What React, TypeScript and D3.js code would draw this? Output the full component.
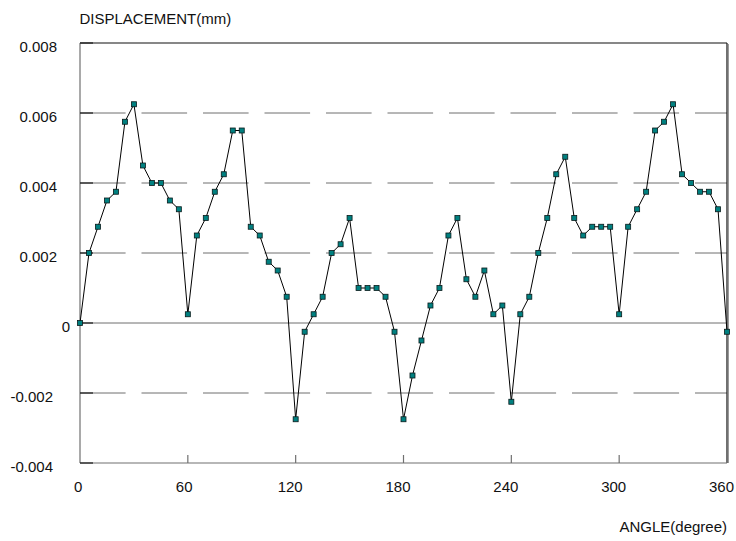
import React from "react";
import * as d3 from "d3";

// Displacement readings every 5 degrees of rotation (mm)
const angles: number[] = d3.range(0, 361, 5);
const displacement: number[] = [
  0, 0.002, 0.00275, 0.0035, 0.00375, 0.00575, 0.00625, 0.0045, 0.004, 0.004,
  0.0035, 0.00325, 0.00025, 0.0025, 0.003, 0.00375, 0.00425, 0.0055, 0.0055, 0.00275,
  0.0025, 0.00175, 0.0015, 0.00075, -0.00275, -0.00025, 0.00025, 0.00075, 0.002, 0.00225,
  0.003, 0.001, 0.001, 0.001, 0.00075, -0.00025, -0.00275, -0.0015, -0.0005, 0.0005,
  0.001, 0.0025, 0.003, 0.00125, 0.00075, 0.0015, 0.00025, 0.0005, -0.00225, 0.00025,
  0.00075, 0.002, 0.003, 0.00425, 0.00475, 0.003, 0.0025, 0.00275, 0.00275, 0.00275,
  0.00025, 0.00275, 0.00325, 0.00375, 0.0055, 0.00575, 0.00625, 0.00425, 0.004, 0.00375,
  0.00375, 0.00325, -0.00025,
];

const yTicks: number[] = [-0.004, -0.002, 0, 0.002, 0.004, 0.006, 0.008];
const yTickLabels: string[] = ["-0.004", "-0.002", "0", "0.002", "0.004", "0.006", "0.008"];
const xTicks: number[] = [0, 60, 120, 180, 240, 300, 360];
const xTickLabels: string[] = ["0", "60", "120", "180", "240", "300", "360"];

const W = 736;
const H = 541;
const left = 80;
const right = 727;
const top = 43;
const bottom = 463;
const FONT = "'Liberation Sans', Arial, sans-serif";

export default function App() {
  const x = d3.scaleLinear().domain([0, 360]).range([left, right]);
  const y = d3.scaleLinear().domain([-0.004, 0.008]).range([bottom, top]);
  const pts = angles.map((a, i) => [a, displacement[i]] as [number, number]);
  const line = d3
    .line<[number, number]>()
    .x((d) => x(d[0]))
    .y((d) => y(d[1]));

  const labelEnd = (v: number) => (v === 0 ? 70 : v > 0 ? 57 : 53);

  return (
    <svg
      width={W}
      height={H}
      style={{ position: "absolute", left: 0, top: 0, background: "#fff" }}
      fontFamily={FONT}
    >
      <rect x={0} y={0} width={W} height={H} fill="#fff" />

      {/* horizontal grid */}
      {yTicks
        .filter((v) => v !== -0.004 && v !== 0.008)
        .map((v) => (
          <line
            key={"g" + v}
            x1={left}
            x2={right}
            y1={y(v)}
            y2={y(v)}
            stroke="#6e6e6e"
            strokeWidth={1}
            strokeDasharray={v === 0 ? undefined : "45.6 15.9"}
          />
        ))}

      {/* frame */}
      <line x1={right + 1.5} x2={right + 1.5} y1={top + 1} y2={bottom} stroke="#9a9a9a" strokeWidth={1} />
      <line x1={left} x2={right} y1={top} y2={top} stroke="#111" strokeWidth={1.2} />
      <line x1={right} x2={right} y1={top} y2={bottom} stroke="#111" strokeWidth={1.2} />
      <line x1={left} x2={left} y1={top} y2={bottom} stroke="#707070" strokeWidth={1.2} />
      <line x1={left} x2={right} y1={bottom} y2={bottom} stroke="#707070" strokeWidth={1.2} />

      {/* y ticks */}
      {yTicks.map((v) => (
        <line key={"yt" + v} x1={left} x2={left + 13} y1={y(v)} y2={y(v)} stroke="#1a1a1a" strokeWidth={1.2} />
      ))}
      {/* x ticks */}
      {xTicks
        .filter((v) => v !== 0)
        .map((v) => (
          <line key={"xt" + v} x1={x(v)} x2={x(v)} y1={bottom} y2={bottom - 8} stroke="#707070" strokeWidth={1.2} />
        ))}

      {/* y tick labels */}
      {yTicks.map((v, i) => (
        <text key={"yl" + v} x={labelEnd(v)} y={y(v) + 8.7} fontSize={15} textAnchor="end" fill="#111">
          {yTickLabels[i]}
        </text>
      ))}
      {/* x tick labels */}
      {xTicks.map((v, i) => (
        <text
          key={"xl" + v}
          x={x(v) - 6 * xTickLabels[i].length}
          y={492}
          fontSize={15}
          textAnchor="start"
          fill="#111"
        >
          {xTickLabels[i]}
        </text>
      ))}

      {/* axis titles */}
      <text x={79.5} y={23.5} fontSize={15} fill="#111">
        DISPLACEMENT(mm)
      </text>
      <text x={727} y={532} fontSize={15} textAnchor="end" fill="#111">
        ANGLE(degree)
      </text>

      {/* series */}
      <path d={line(pts) || ""} fill="none" stroke="#000" strokeWidth={1} />
      {pts.map((d) => (
        <rect
          key={"m" + d[0]}
          x={x(d[0]) - 2.5}
          y={y(d[1]) - 2.5}
          width={5}
          height={5}
          fill="#008080"
          stroke="#0a1a1a"
          strokeWidth={0.8}
        />
      ))}
    </svg>
  );
}
